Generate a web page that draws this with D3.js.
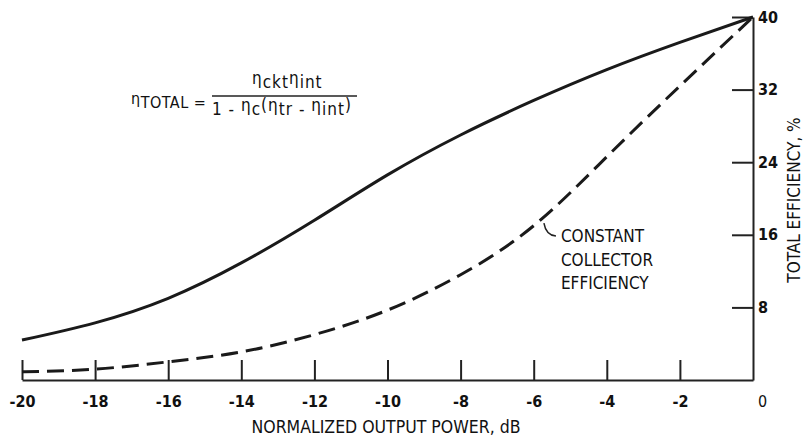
<!DOCTYPE html>
<html>
<head>
<meta charset="utf-8">
<script src="https://cdn.jsdelivr.net/npm/d3@7"></script>
<style>
  body { margin: 0; background: #fff; }
  svg { display: block; }
  text { font-family: "DejaVu Sans Condensed", "DejaVu Sans", sans-serif; fill: #111; }
</style>
</head>
<body>
<div id="chart"></div>
<script>
// ---------------------------------------------------------
// DATA
// ---------------------------------------------------------
const powerDb = [-20, -18, -16, -14, -12, -10, -8, -6, -4, -2, 0];
const totalEff = [4.4, 6.3, 9.0, 12.9, 17.6, 22.6, 27.0, 30.8, 34.2, 37.2, 40];
const constCollectorEff = [0.9, 1.2, 2.0, 3.1, 5.0, 7.7, 11.6, 17.0, 24.6, 32.4, 40];

const xTicks = [-20, -18, -16, -14, -12, -10, -8, -6, -4, -2, 0];
const yTicks = [8, 16, 24, 32, 40];

const xTitle = "NORMALIZED OUTPUT POWER, dB";
const yTitle = "TOTAL EFFICIENCY, %";
const noteLines = ["CONSTANT", "COLLECTOR", "EFFICIENCY"];

// ---------------------------------------------------------
// SETUP
// ---------------------------------------------------------
const width = 803, height = 441;

const svg = d3.select("#chart").append("svg")
    .attr("width", width)
    .attr("height", height);

const x = d3.scaleLinear().domain([-20, 0]).range([22, 753]);
const y = d3.scaleLinear().domain([0, 40]).range([380, 17]);

// ---------------------------------------------------------
// AXES
// ---------------------------------------------------------
const xAxis = d3.axisBottom(x)
    .tickValues(xTicks)
    .tickSizeInner(-20)
    .tickSizeOuter(0)
    .tickPadding(16)
    .tickFormat(d => String(d));

const gx = svg.append("g")
    .attr("transform", `translate(0,${y(0)})`)
    .call(xAxis);

const yAxis = d3.axisRight(y)
    .tickValues(yTicks)
    .tickSizeInner(-21)
    .tickSizeOuter(0)
    .tickPadding(5)
    .tickFormat(d => String(d));

const gy = svg.append("g")
    .attr("transform", `translate(${x(0)},0)`)
    .call(yAxis);

[gx, gy].forEach(g => {
  g.select(".domain").attr("stroke", "#222").attr("stroke-width", 2);
  g.selectAll(".tick line").attr("stroke", "#222").attr("stroke-width", 2);
  g.selectAll(".tick text")
    .style("font-size", "16px")
    .style("font-weight", "bold")
    .style("font-family", "'DejaVu Sans Condensed', sans-serif")
    .attr("fill", "#111");
});

// the corner tick: no line, label sits a bit right of the corner
gx.selectAll(".tick").filter(d => d === 0).select("line").remove();
gx.selectAll(".tick").filter(d => d === 0).select("text").attr("x", 9).style("font-weight", "normal");

gx.append("text")
    .attr("x", 386)
    .attr("y", 53)
    .attr("text-anchor", "middle")
    .style("font-size", "17.5px")
    .attr("fill", "#111")
    .text(xTitle);

svg.append("text")
    .attr("transform", `translate(800,200) rotate(-90)`)
    .attr("text-anchor", "middle")
    .style("font-size", "17px")
    .text(yTitle);

// ---------------------------------------------------------
// CURVES
// ---------------------------------------------------------
const line = d3.line()
    .x(d => x(d[0]))
    .y(d => y(d[1]))
    .curve(d3.curveNatural);

svg.append("path")
    .datum(powerDb.map((p, i) => [p, totalEff[i]]))
    .attr("d", line)
    .attr("fill", "none")
    .attr("stroke", "#1a1a1a")
    .attr("stroke-width", 3);

svg.append("path")
    .datum(powerDb.map((p, i) => [p, constCollectorEff[i]]))
    .attr("d", line)
    .attr("fill", "none")
    .attr("stroke", "#1a1a1a")
    .attr("stroke-width", 3)
    .attr("stroke-dasharray", "17,8");

// ---------------------------------------------------------
// ANNOTATION
// ---------------------------------------------------------
const lx = x(-5.72), ly = y(17.3);
svg.append("path")
    .attr("d", `M${lx},${ly} Q${lx + 2},${ly + 12} ${lx + 12},${ly + 13}`)
    .attr("fill", "none")
    .attr("stroke", "#222")
    .attr("stroke-width", 1.5);

const note = svg.append("text")
    .attr("x", lx + 17)
    .attr("y", ly + 19)
    .style("font-size", "17px");
noteLines.forEach((t, i) => {
  note.append("tspan")
    .attr("x", lx + 17)
    .attr("dy", i === 0 ? 0 : 23.5)
    .text(t);
});

// ---------------------------------------------------------
// FORMULA
// ---------------------------------------------------------
function formula(xPos, yPos, size, spacing, parts) {
  const t = svg.append("text")
      .attr("x", xPos)
      .attr("y", yPos)
      .style("font-size", size + "px")
      .style("letter-spacing", spacing + "px");
  let shift = 0;
  parts.forEach(p => {
    const s = p.sub ? 4 : 0;
    t.append("tspan")
      .attr("dy", s - shift)
      .text(p.t);
    shift = s;
  });
  return t;
}

formula(131, 104, 16, 0.5, [
  { t: "η" }, { t: "TOTAL", sub: true }, { t: " =", sub: true }
]);
formula(252, 84, 17, 1, [
  { t: "η" }, { t: "ckt", sub: true }, { t: "η" }, { t: "int", sub: true }
]);
svg.append("line")
    .attr("x1", 212).attr("x2", 357)
    .attr("y1", 96).attr("y2", 96)
    .attr("stroke", "#222")
    .attr("stroke-width", 1.5);
formula(212, 111, 17, 1, [
  { t: "1 - ", sub: true }, { t: "η" }, { t: "c", sub: true }, { t: "(η" }, { t: "tr", sub: true },
  { t: " - ", sub: true }, { t: "η" }, { t: "int", sub: true }, { t: ")" }
]);
</script>
</body>
</html>
